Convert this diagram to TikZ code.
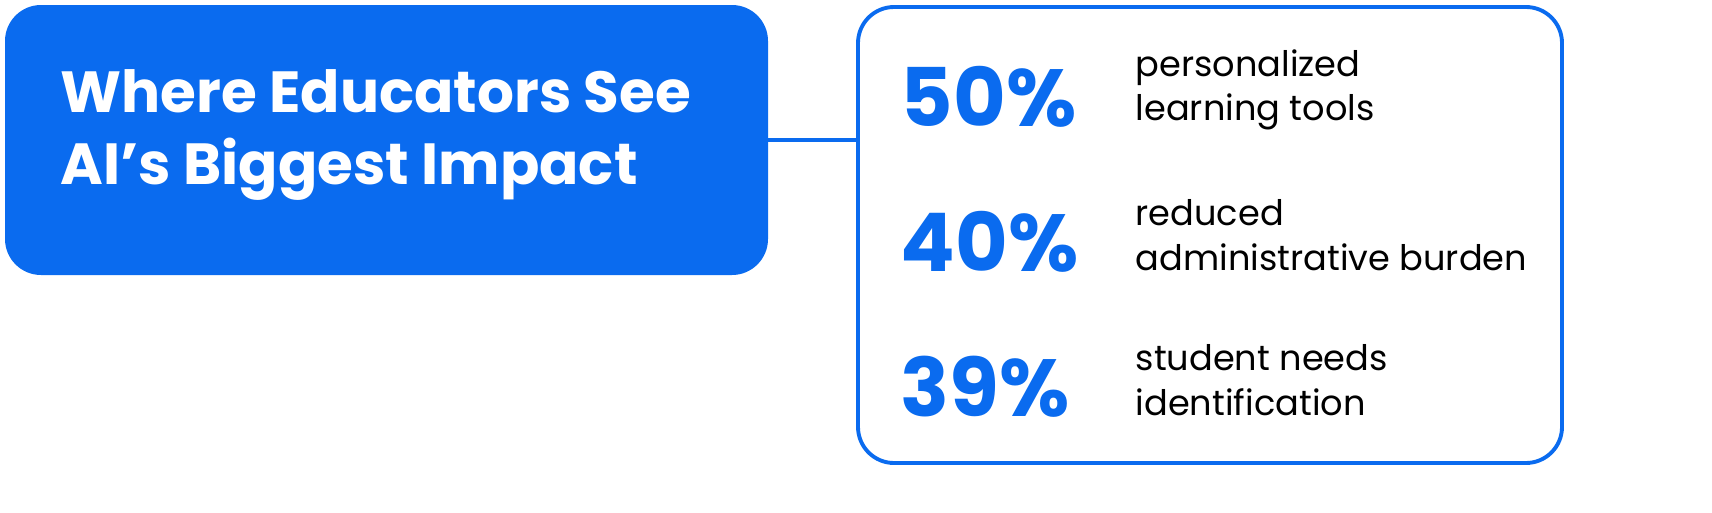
\documentclass[tikz,border=0pt]{standalone}
\usepackage{fontspec}
\setmainfont{Poppins}
\usetikzlibrary{positioning}
\definecolor{impactblue}{HTML}{0A6BEF}
\tikzset{
  pct/.style={anchor=west, font=\fontsize{23}{26}\selectfont\bfseries, text=impactblue, inner sep=0pt},
  desc/.style={anchor=west, align=left, font=\fontsize{10}{12.6}\selectfont, inner sep=0pt},
}
\begin{document}
\begin{tikzpicture}[x=0.01cm,y=-0.01cm]
        \useasboundingbox (0,0) rectangle (1712,512);
        % headline box
        \fill[impactblue, rounded corners=0.36cm] (5,5) rectangle (768,275);
        \node[anchor=west, align=left, text=white, inner sep=0pt,
              font=\fontsize{16.5}{20.5}\selectfont\bfseries] (title) at (60,135)
              {Where Educators See\\AI’s Biggest Impact};
        % stats box
        \draw[impactblue, line width=1.1pt, fill=white, rounded corners=0.36cm]
              (858,7) rectangle (1562,463);
        \coordinate (lend) at (768,140);
        \coordinate (rend) at (858,140);
        \draw[impactblue, line width=1.1pt] (lend) -- (rend);
        % figures
        \node[pct] (p50) at (900,97) {50\%};
        \node[pct] (p40) at (900,242) {40\%};
        \node[pct] (p39) at (900,387) {39\%};
        \node[desc] (d50) at (1135,90) {personalized\\learning tools};
        \node[desc] (d40) at (1135,235) {reduced\\administrative burden};
        \node[desc] (d39) at (1135,380) {student needs\\identification};
    \end{tikzpicture}
\end{document}
